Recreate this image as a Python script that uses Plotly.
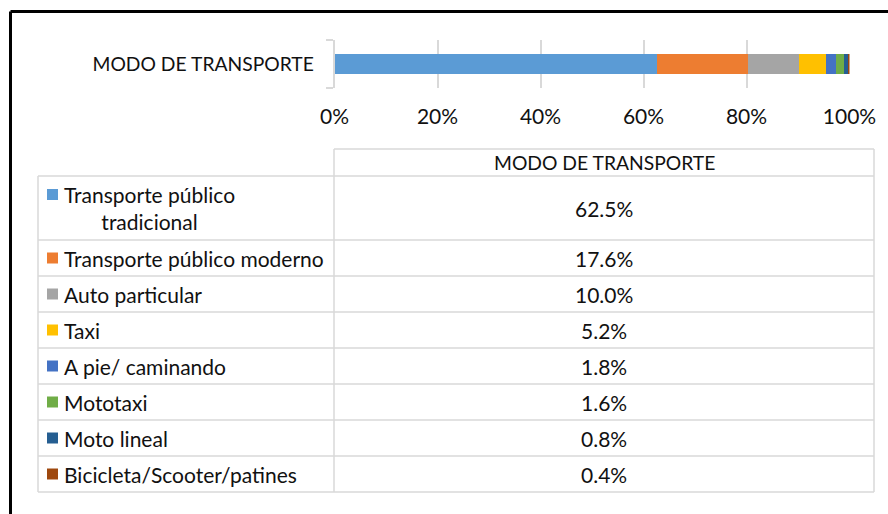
import plotly.graph_objects as go

# ---------------- data ----------------
categories = ["MODO DE TRANSPORTE"]
series_names = [
    "Transporte público tradicional",
    "Transporte público moderno",
    "Auto particular",
    "Taxi",
    "A pie/ caminando",
    "Mototaxi",
    "Moto lineal",
    "Bicicleta/Scooter/patines",
]
table_labels = [
    "Transporte público<br>tradicional",
    "Transporte público moderno",
    "Auto particular",
    "Taxi",
    "A pie/ caminando",
    "Mototaxi",
    "Moto lineal",
    "Bicicleta/Scooter/patines",
]
values = [62.5, 17.6, 10.0, 5.2, 1.8, 1.6, 0.8, 0.4]
colors = ["#5B9BD5", "#ED7D31", "#A5A5A5", "#FFC000",
          "#4472C4", "#70AD47", "#255E91", "#9E480E"]
tick_vals = [0, 20, 40, 60, 80, 100]
tick_text = ["0%", "20%", "40%", "60%", "80%", "100%"]
table_header = "MODO DE TRANSPORTE"

# ---------------- layout helpers ----------------
W, H = 888, 514
FONT = "Lato"
FS = 21
FS_CAPS = 19.3
TXT = "#111111"
GRID = "#D9D9D9"


def px(x):
    return x / W


def py(y):
    return 1 - y / H


fig = go.Figure()
for name, v, c in zip(series_names, values, colors):
    fig.add_trace(go.Bar(
        y=categories, x=[v], name=name, orientation="h",
        marker=dict(color=c, line=dict(width=0)), width=0.4,
        showlegend=False, hoverinfo="x+name",
    ))

shapes = []
annotations = []

# outer black frame (left + top)
shapes.append(dict(type="line", xref="paper", yref="paper",
                   x0=px(10.5), x1=1, y0=py(11.5), y1=py(11.5),
                   line=dict(color="#000", width=3)))
shapes.append(dict(type="line", xref="paper", yref="paper",
                   x0=px(10.5), x1=px(10.5), y0=py(11.5), y1=0,
                   line=dict(color="#000", width=3)))

# table geometry
xl, xm, xr = 38, 334, 874
y_head_top, y_head_bot = 149, 176
row_h = [64] + [36] * (len(values) - 1)
bounds = [y_head_bot]
for h in row_h:
    bounds.append(bounds[-1] + h)

line_style = dict(color=GRID, width=1.5)
# header cell
shapes.append(dict(type="line", xref="paper", yref="paper", x0=px(xm), x1=px(xr),
                   y0=py(y_head_top), y1=py(y_head_top), line=line_style))
for yb in bounds:
    shapes.append(dict(type="line", xref="paper", yref="paper", x0=px(xl), x1=px(xr),
                       y0=py(yb), y1=py(yb), line=line_style))
for xv, ytop in [(xl, y_head_bot), (xm, y_head_top), (xr, y_head_top)]:
    shapes.append(dict(type="line", xref="paper", yref="paper", x0=px(xv), x1=px(xv),
                       y0=py(ytop), y1=py(bounds[-1]), line=line_style))

annotations.append(dict(xref="paper", yref="paper", x=px((xm + xr) / 2),
                        y=py((y_head_top + y_head_bot) / 2), text=table_header,
                        showarrow=False, xanchor="center", yanchor="middle",
                        font=dict(family=FONT, size=FS_CAPS, color=TXT)))

for i, (lab, v, c) in enumerate(zip(table_labels, values, colors)):
    yc = (bounds[i] + bounds[i + 1]) / 2
    ykey = yc if i > 0 else bounds[i] + 18.5
    shapes.append(dict(type="rect", xref="paper", yref="paper",
                       x0=px(47), x1=px(58), y0=py(ykey - 5.5), y1=py(ykey + 5.5),
                       fillcolor=c, line=dict(width=0)))
    annotations.append(dict(xref="paper", yref="paper", x=px(62), y=py(yc),
                            text=lab, showarrow=False, xanchor="left", yanchor="middle",
                            align="center",
                            font=dict(family=FONT, size=FS, color=TXT)))
    annotations.append(dict(xref="paper", yref="paper", x=px((xm + xr) / 2), y=py(yc),
                            text=f"{v:.1f}%", showarrow=False, xanchor="center",
                            yanchor="middle",
                            font=dict(family=FONT, size=FS, color=TXT)))

fig.update_layout(
    template="none",
    width=W, height=H, autosize=False,
    margin=dict(l=0, r=0, t=0, b=0, pad=0),
    paper_bgcolor="white", plot_bgcolor="white",
    barmode="stack", barnorm="percent", bargap=0,
    font=dict(family=FONT, size=FS, color=TXT),
    xaxis=dict(domain=[px(334.5), px(849.5)], range=[0, 100], automargin=False,
               tickvals=tick_vals, ticktext=tick_text,
               showgrid=True, gridcolor=GRID, gridwidth=1.5,
               zeroline=False, showline=False, ticks="",
               ticklabelstandoff=14,
               tickfont=dict(family=FONT, size=FS, color=TXT)),
    yaxis=dict(domain=[py(88), py(40)], range=[-0.5, 0.5], automargin=False,
               showline=True, linecolor=GRID, linewidth=1.5, showgrid=False,
               zeroline=False,
               ticks="outside", tickson="boundaries", ticklen=7, tickcolor=GRID,
               tickwidth=1.5, ticklabelstandoff=15,
               tickfont=dict(family=FONT, size=FS_CAPS, color=TXT)),
    shapes=shapes,
    annotations=annotations,
)

fig.write_html("out.html", config={"displayModeBar": False, "responsive": False},
               post_script="document.body.style.margin='0';")
